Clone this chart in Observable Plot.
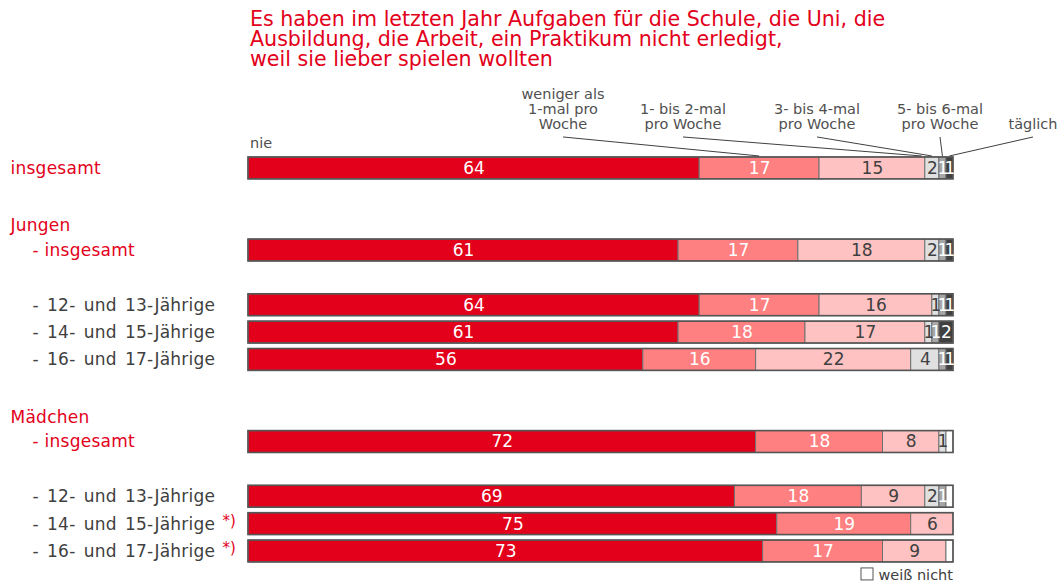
<!DOCTYPE html>
<html><head><meta charset="utf-8">
<script src="https://cdn.jsdelivr.net/npm/d3@7"></script>
<script src="https://cdn.jsdelivr.net/npm/@observablehq/plot@0.6"></script>
<style>
body{margin:0;background:#fff;font-family:"DejaVu Sans",Verdana,sans-serif;}
#wrap{position:relative;width:1057px;height:583px;}
#title{position:absolute;left:250px;top:9px;color:#e2001a;font-size:20.6px;line-height:20px;}
#chart{position:absolute;left:0;top:0;}
.rowlabel text{letter-spacing:0.25px;}
.agelabel text{letter-spacing:0.25px;word-spacing:2.5px;}
</style></head><body>
<div id="wrap">
<div id="title">Es haben im letzten Jahr Aufgaben für die Schule, die Uni, die<br>Ausbildung, die Arbeit, ein Praktikum nicht erledigt,<br>weil sie lieber spielen wollten</div>
<div id="chart"></div>
</div>
<script>
// ---- data ----
const categories = ["nie", "weniger als 1-mal pro Woche", "1- bis 2-mal pro Woche", "3- bis 4-mal pro Woche", "5- bis 6-mal pro Woche", "täglich", "weiß nicht"];
const legendLines = [["nie"], ["weniger als", "1-mal pro", "Woche"], ["1- bis 2-mal", "pro Woche"], ["3- bis 4-mal", "pro Woche"], ["5- bis 6-mal", "pro Woche"], ["täglich"]];
const rowIds = ["all", "b1", "boysHead", "boys", "b2", "boys12", "boys14", "boys16", "b3", "girlsHead", "girls", "b4", "girls12", "girls14", "girls16"];
const rowLabels = ["insgesamt", "", "Jungen", "- insgesamt", "", "- 12- und 13-Jährige", "- 14- und 15-Jährige", "- 16- und 17-Jährige", "", "Mädchen", "- insgesamt", "", "- 12- und 13-Jährige", "- 14- und 15-Jährige", "- 16- und 17-Jährige"];
const rowNotes = ["", "", "", "", "", "", "", "", "", "", "", "", "", "*)", "*)"];
const barRows = ["all", "boys", "boys12", "boys14", "boys16", "girls", "girls12", "girls14", "girls16"];
const nie           = [64, 61, 64, 61, 56, 72, 69, 75, 73];
const weniger       = [17, 17, 17, 18, 16, 18, 18, 19, 17];
const einsBisZwei   = [15, 18, 16, 17, 22,  8,  9,  6,  9];
const dreiBisVier   = [ 2,  2,  1,  1,  4,  1,  2,  0,  0];
const fuenfBisSechs = [ 1,  1,  1,  1,  1,  0,  1,  0,  0];
const taeglich      = [ 1,  1,  1,  2,  1,  0,  0,  0,  0];
const weissNicht    = [ 0,  0,  0,  0,  0,  1,  1,  0,  1];
const series = [nie, weniger, einsBisZwei, dreiBisVier, fuenfBisSechs, taeglich, weissNicht];

// ---- styles ----
const colors = ["#e2001a", "#ff8080", "#ffc2c2", "#e0e0e0", "#a6a6a6", "#404040", "#ffffff"];
const lightText = new Set([categories[0], categories[1], categories[4], categories[5]]);
const red = "#e2001a", gray = "#404040";
const font = "'DejaVu Sans', Verdana, sans-serif";

// ---- derived tables ----
const segs = [];
const totals = [];
barRows.forEach((row, i) => {
  let acc = 0;
  categories.forEach((cat, j) => {
    const v = series[j][i];
    if (v > 0) segs.push({row, cat, value: v, x1: acc, x2: acc + v});
    acc += v;
  });
  totals.push({row, total: acc});
});
const labelled = segs.filter(d => d.cat !== "weiß nicht");
const rowsTable = rowIds.map((id, i) => ({id, label: rowLabels[i], note: rowNotes[i]}));
const isHead = id => id === "all" || id.endsWith("Head");
const isRedIndented = id => id === "boys" || id === "girls";

const chart = Plot.plot({
  width: 1057, height: 583,
  marginLeft: 248, marginRight: 104, marginTop: 151.5, marginBottom: 15.6,
  x: {domain: [0, 100], axis: null},
  y: {domain: rowIds, axis: null, padding: 0.2, round: false},
  color: {domain: categories, range: colors},
  style: {fontFamily: font, fontSize: "17px", background: "transparent", overflow: "visible"},
  marks: [
    Plot.barX(segs, {x1: "x1", x2: "x2", y: "row", fill: "cat", stroke: "#707070", strokeWidth: 1}),
    Plot.barX(totals, {x: "total", y: "row", fill: "none", stroke: "#555", strokeWidth: 1.6}),
    Plot.text(labelled.filter(d => lightText.has(d.cat)), {x: d => (d.x1 + d.x2) / 2, y: "row", text: d => String(d.value), fill: "white", fontSize: 17}),
    Plot.text(labelled.filter(d => !lightText.has(d.cat)), {x: d => (d.x1 + d.x2) / 2, y: "row", text: d => String(d.value), fill: gray, fontSize: 17}),
    Plot.text(rowsTable.filter(d => d.label && d.id === "all"), {className: "rowlabel", y: "id", text: "label", frameAnchor: "left", textAnchor: "start", dx: -238, fill: red, fontSize: 17}),
    Plot.text(rowsTable.filter(d => d.label && d.id.endsWith("Head")), {className: "rowlabel", y: "id", text: "label", frameAnchor: "left", textAnchor: "start", dx: -238, dy: 2.5, fill: red, fontSize: 17}),
    Plot.text(rowsTable.filter(d => d.label && isRedIndented(d.id)), {className: "rowlabel", y: "id", text: "label", frameAnchor: "left", textAnchor: "start", dx: -216, fill: red, fontSize: 17}),
    Plot.text(rowsTable.filter(d => d.label && !isHead(d.id) && !isRedIndented(d.id)), {className: "agelabel", y: "id", text: "label", frameAnchor: "left", textAnchor: "start", dx: -216, fill: gray, fontSize: 17}),
    Plot.text(rowsTable.filter(d => d.note), {y: "id", text: "note", frameAnchor: "left", textAnchor: "start", dx: -26, dy: -3, fill: red, fontSize: 15})
  ]
});
document.getElementById("chart").append(chart);

// ---- category legend with leader lines (drawn via the plot's scales) ----
const xs = chart.scale("x"), ys = chart.scale("y");
const barTop = ys.apply("all");
const svg = d3.select(chart);
const labelX = [250, 563, 683, 817, 940, 1033];
const leaderFrac = [null, 0.5, 0.97, 0.5, 0.5, 0.5];
const allSegs = segs.filter(d => d.row === "all");
const g = svg.append("g").attr("font-family", font).attr("font-size", 14.5).attr("fill", "#505050");
legendLines.forEach((lines, k) => {
  const t = g.append("text").attr("text-anchor", k === 0 ? "start" : "middle");
  const baseY = k === 0 ? barTop - 9 : barTop - 28;
  lines.forEach((ln, li) => {
    t.append("tspan").attr("x", labelX[k]).attr("y", baseY - (lines.length - 1 - li) * 15).text(ln);
  });
  if (leaderFrac[k] != null) {
    const s = allSegs.find(d => d.cat === categories[k]);
    const ex = xs.apply(s.x1 + (s.x2 - s.x1) * leaderFrac[k]);
    g.append("line").attr("x1", labelX[k]).attr("y1", barTop - 20).attr("x2", ex).attr("y2", barTop - 1)
      .attr("stroke", "#404040").attr("stroke-width", 1);
  }
});
// "weiß nicht" key
const right = xs.apply(100);
const bottomY = ys.apply("girls16") + ys.bandwidth;
const lg = svg.append("g").attr("font-family", font).attr("font-size", 14.5);
lg.append("rect").attr("x", right - 92).attr("y", bottomY + 6).attr("width", 12).attr("height", 12)
  .attr("fill", "white").attr("stroke", "#555").attr("stroke-width", 1);
lg.append("text").attr("x", right).attr("y", bottomY + 18).attr("text-anchor", "end").attr("fill", "#404040").text(categories[6]);
</script>
</body></html>
